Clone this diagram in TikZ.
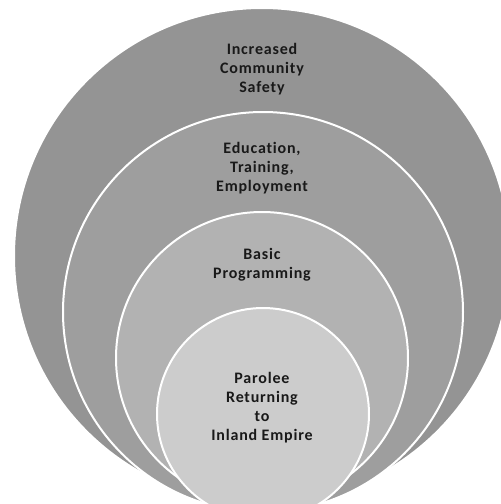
\documentclass[tikz,border=0pt]{standalone}
\usepackage{fontspec}
\setmainfont{Carlito}[LetterSpace=5, Ligatures=NoCommon]
\usetikzlibrary{positioning}
\definecolor{ringout}{gray}{0.58}
\definecolor{ringtwo}{gray}{0.62}
\definecolor{ringthree}{gray}{0.70}
\definecolor{ringin}{gray}{0.80}

\begin{document}
\begin{tikzpicture}[x=1pt, y=-1pt,
    every node/.style={font=\fontsize{16}{19}\selectfont\bfseries, align=center, text=black!90},
    ring/.style={fill=#1, draw=white, line width=2pt}]
  \useasboundingbox (0,0) rectangle (501,504);
  \clip (0,0) rectangle (501,504);

  % nested circles, all sitting on the bottom edge
  \path[ring=ringout]   (262,256) circle (248pt);
  \path[ring=ringtwo]   (263,312) circle (200pt);
  \path[ring=ringthree] (262,358) circle (146pt);
  \path[ring=ringin]    (263,414) circle (106pt);

  \node (safety)    at (262,69)  {Increased\\Community\\Safety};
  \node (education) at (262,168) {Education,\\Training,\\Employment};
  \node (basic)     at (262,265) {Basic\\Programming};
  \node (parolee)   at (262,408) {Parolee\\Returning\\to\\Inland Empire};
\end{tikzpicture}
\end{document}
